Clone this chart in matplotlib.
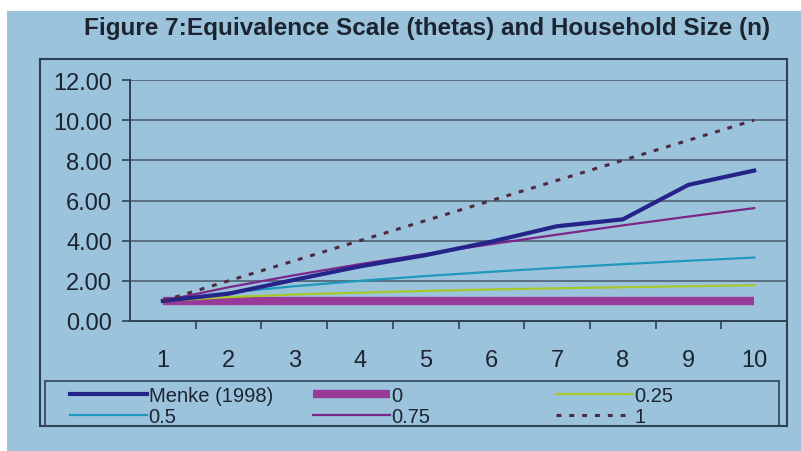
import matplotlib
matplotlib.use("Agg")
import matplotlib.pyplot as plt
from matplotlib.patches import Rectangle

# Household size categories
household_size = [1, 2, 3, 4, 5, 6, 7, 8, 9, 10]
x_labels = ["1", "2", "3", "4", "5", "6", "7", "8", "9", "10"]

# Equivalence scale values per household size
menke_1998 = [1.00, 1.36, 2.05, 2.72, 3.28, 3.95, 4.72, 5.06, 6.78, 7.49]
theta_0 = [1.00, 1.00, 1.00, 1.00, 1.00, 1.00, 1.00, 1.00, 1.00, 1.00]
theta_025 = [1.00, 1.19, 1.32, 1.41, 1.50, 1.57, 1.63, 1.68, 1.73, 1.78]
theta_05 = [1.00, 1.41, 1.73, 2.00, 2.24, 2.45, 2.65, 2.83, 3.00, 3.16]
theta_075 = [1.00, 1.68, 2.28, 2.83, 3.34, 3.83, 4.30, 4.76, 5.20, 5.62]
theta_1 = [1.00, 2.00, 3.00, 4.00, 5.00, 6.00, 7.00, 8.00, 9.00, 10.00]

y_ticks = [0, 2, 4, 6, 8, 10, 12]
y_labels = ["0.00", "2.00", "4.00", "6.00", "8.00", "10.00", "12.00"]

BG = "#9cc3dc"
INK = "#1c2430"
FRAME = "#2e4152"
GRID = "#46596a"

plt.rcParams["font.family"] = ["Liberation Sans", "DejaVu Sans"]

fig = plt.figure(figsize=(8.01, 4.52), dpi=100)
fig.patch.set_facecolor("white")

# Blue panel behind the chart
fig.patches.append(Rectangle((7 / 801, 0), 1 - 7 / 801, 1 - 12 / 452,
                             transform=fig.transFigure, facecolor=BG,
                             edgecolor="none", zorder=-10))
# Chart frame
fig.patches.append(Rectangle((40 / 801, 1 - 427 / 452), 747 / 801, 367 / 452,
                             transform=fig.transFigure, facecolor="none",
                             edgecolor=FRAME, linewidth=1.5, zorder=5))

ax = fig.add_axes([130 / 801, 1 - 322 / 452, 657 / 801, 241 / 452])
ax.set_facecolor("none")
ax.set_zorder(1)

ax.plot(household_size, theta_0, color="#9a3a98", lw=6.0, solid_capstyle="butt",
        label="0", zorder=3)
ax.plot(household_size, theta_025, color="#a6c82a", lw=1.6, label="0.25", zorder=4)
ax.plot(household_size, theta_05, color="#1f98bd", lw=1.6, label="0.5", zorder=4)
ax.plot(household_size, theta_075, color="#7b2689", lw=1.6, label="0.75", zorder=5)
ax.plot(household_size, menke_1998, color="#25248a", lw=3.0, label="Menke (1998)",
        zorder=6)
ax.plot(household_size, theta_1, color="#4e2a40", lw=2.2,
        linestyle=(0, (1.6, 2.6)), label="1", zorder=6)

ax.set_xlim(0.5, 10.5)
ax.set_ylim(0, 12)

ax.set_yticks(y_ticks)
ax.set_yticklabels(y_labels)
ax.set_xticks(household_size)
ax.set_xticklabels(x_labels)
ax.set_xticks([h + 0.5 for h in household_size[:-1]], minor=True)

ax.tick_params(axis="y", which="major", length=6, width=1.2, color=FRAME,
               direction="out", pad=7, labelsize=17, labelcolor=INK)
ax.tick_params(axis="x", which="major", length=0, pad=20, labelsize=17,
               labelcolor=INK)
ax.tick_params(axis="x", which="minor", length=6, width=1.2, color=FRAME,
               direction="out")

for y in y_ticks[1:]:
    ax.axhline(y, color=GRID, lw=1.1, zorder=1)

for side in ("top", "right"):
    ax.spines[side].set_visible(False)
for side in ("left", "bottom"):
    ax.spines[side].set_color(FRAME)
    ax.spines[side].set_linewidth(1.4)

fig.text(427 / 801, 1 - 35 / 452,
         "Figure 7:Equivalence Scale (thetas) and Household Size (n)",
         ha="center", va="baseline", fontsize=17.5, fontweight="bold", color=INK)

# Legend: three columns drawn as separate one-column legends inside one box
handles = {h.get_label(): h for h in ax.get_lines()}
columns = [(["Menke (1998)", "0.5"], 70), (["0", "0.75"], 313), (["0.25", "1"], 556)]
for labels, xpix in columns:
    leg = fig.legend([handles[l] for l in labels], labels,
                     loc="upper left", bbox_to_anchor=(xpix / 801, 1 - 387 / 452),
                     frameon=False, fontsize=14.5, handlelength=3.8,
                     handletextpad=0.1, labelspacing=0.12, borderpad=0.0,
                     borderaxespad=0.0, labelcolor=INK)
fig.patches.append(Rectangle((45 / 801, 1 - 427 / 452), 734 / 801, 45 / 452,
                             transform=fig.transFigure, facecolor="none",
                             edgecolor=FRAME, linewidth=1.2, zorder=5))

fig.savefig("out.png", dpi=100, facecolor=fig.get_facecolor())
